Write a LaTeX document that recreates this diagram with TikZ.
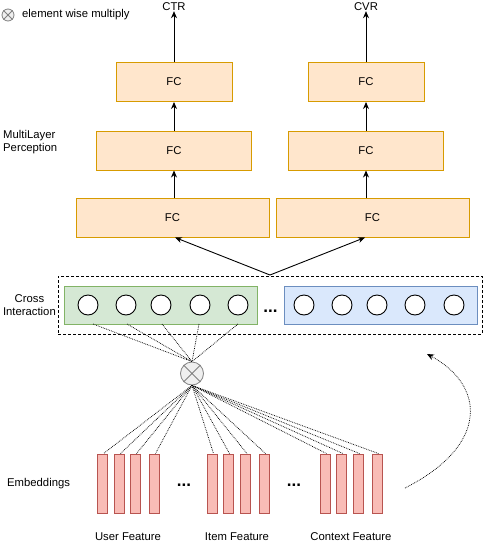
\documentclass[tikz,border=0pt]{standalone}
\usepackage{fontspec}
\setmainfont{Liberation Sans}
\usetikzlibrary{arrows.meta}
\definecolor{fcfill}{HTML}{FFE6CC}
\definecolor{fcdraw}{HTML}{D79B00}
\definecolor{gfill}{HTML}{D5E8D4}
\definecolor{gdraw}{HTML}{82B366}
\definecolor{bfill}{HTML}{DAE8FC}
\definecolor{bdraw}{HTML}{6C8EBF}
\definecolor{efill}{HTML}{F9BCB6}
\definecolor{edraw}{HTML}{B85450}
\definecolor{ofill}{HTML}{EFEFEF}
\definecolor{odraw}{HTML}{808080}
\begin{document}
\begin{tikzpicture}[x=1pt,y=-1pt,
  lbl/.style={font=\fontsize{11.3}{13}\selectfont, inner sep=0pt},
  fcbox/.style={draw=fcdraw, fill=fcfill, line width=1pt, minimum height=39pt, font=\fontsize{11.3}{13}\selectfont, inner sep=0pt},
  emb/.style={draw=edraw, fill=efill, line width=0.9pt, minimum width=10pt, minimum height=59pt, inner sep=0pt},
  unit/.style={circle, draw=black, fill=white, line width=0.9pt, minimum size=20pt, inner sep=0pt},
  arr/.style={-{Stealth[length=7pt,width=6pt]}, line width=0.9pt},
  dotl/.style={densely dotted, line width=0.75pt},
  bigdots/.style={font=\fontsize{17}{17}\selectfont\bfseries, inner sep=0pt}
]
\useasboundingbox (0,0) rectangle (484,542);

% legend
\node[circle, draw=odraw, fill=ofill, line width=0.8pt, minimum size=12pt, inner sep=0pt] (leg) at (8,15) {};
\draw[odraw, line width=0.8pt] (leg.north west) -- (leg.south east) (leg.north east) -- (leg.south west);
\node[lbl, anchor=west] (legt) at (22,15) {element wise multiply};

% outputs
\node[lbl] (ctr) at (174,7) {CTR};
\node[lbl] (cvr) at (366,7) {CVR};

% FC boxes left
\node[fcbox, minimum width=116pt] (l3) at (174,82) {FC};
\node[fcbox, minimum width=155pt] (l2) at (174,150.5) {FC};
\node[fcbox, minimum width=193pt] (l1) at (172.5,217.5) {FC};
% FC boxes right
\node[fcbox, minimum width=116pt] (r3) at (366,82) {FC};
\node[fcbox, minimum width=155pt] (r2) at (366,150.5) {FC};
\node[fcbox, minimum width=193pt] (r1) at (372.5,217.5) {FC};

\draw[arr] (l3.north) -- (l3.north |- ctr.south);
\draw[arr] (r3.north) -- (r3.north |- cvr.south);
\draw[arr] (l2.north) -- (l3.south);
\draw[arr] (r2.north) -- (r3.south);
\draw[arr] (l1.north -| l2) -- (l2.south);
\draw[arr] (r1.north -| r2) -- (r2.south);

\node[lbl, align=left, anchor=west] (mlp) at (3,142) {MultiLayer\\Perception};

% cross interaction
\node[draw=black, densely dashed, line width=0.8pt, minimum width=424pt, minimum height=58pt, inner sep=0pt] (ci) at (270,305) {};
\coordinate (citop) at (270,275);
\draw[arr] (citop) -- (175,237.5);
\draw[arr] (citop) -- (365,237.5);
\node[lbl, align=center, anchor=east] (cil) at (56,305) {Cross\\Interaction};

\node[draw=gdraw, fill=gfill, line width=0.9pt, minimum width=193pt, minimum height=38pt, inner sep=0pt] (gb) at (161,305) {};
\node[draw=bdraw, fill=bfill, line width=0.9pt, minimum width=193pt, minimum height=38pt, inner sep=0pt] (bb) at (380.5,305) {};
\foreach \x [count=\i] in {88,126,161,200,238} {\node[unit] (g\i) at (\x,305) {};}
\foreach \x [count=\i] in {304,342,377,415,454} {\node[unit] (b\i) at (\x,305) {};}
\node[bigdots] (cdots) at (270.5,311) {...};

% otimes
\node[circle, draw=odraw, fill=ofill, line width=0.8pt, minimum size=23pt, inner sep=0pt] (ot) at (192,373.5) {};
\draw[odraw, line width=0.8pt] (ot.north west) -- (ot.south east) (ot.north east) -- (ot.south west);
\foreach \x in {93,127,162,199,238} {\draw[dotl] (\x,324) -- (ot.north);}

% embeddings
\foreach \x [count=\i] in {102,119,135,154, 212,228,245.5,264, 325,341.5,358,377} {\node[emb] (e\i) at (\x,483.5) {};
  \draw[dotl] (ot.south) -- ([xshift=1.5pt]e\i.north);}
\node[bigdots] (d1) at (184,485) {...};
\node[bigdots] (d2) at (294,485) {...};
\node[lbl, anchor=west] (embl) at (7,484) {Embeddings};

\node[lbl] (uf) at (128,537) {User Feature};
\node[lbl] (itf) at (237,537) {Item Feature};
\node[lbl] (cf) at (351,537) {Context Feature};

% curved arrow
\coordinate (cs) at (405,488);
\coordinate (ce) at (427,354);
\draw[dotl, -{Stealth[length=7pt,width=6pt]}] (cs) .. controls (490,445) and (485,385) .. (ce);
\end{tikzpicture}
\end{document}
